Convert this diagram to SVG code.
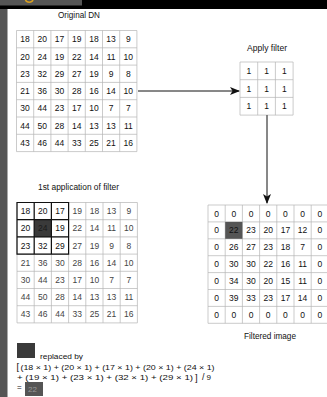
<svg xmlns="http://www.w3.org/2000/svg" width="327" height="397" viewBox="0 0 327 397">
<style>
text{font-family:"Liberation Sans",Arial,sans-serif;fill:#111}
.n{font-size:8.5px;text-anchor:middle}
.g{fill:#444}
.t{font-size:8.3px;text-anchor:middle}
.f{font-size:8px}
.br{font-size:9.5px}
.gl{stroke:#b5b5b5;stroke-width:0.7;fill:none}
.bx{stroke:#111;stroke-width:1.2;fill:none}
.ar{stroke:#111;stroke-width:1;fill:none}
</style>
<defs>
<marker id="ah" markerWidth="10" markerHeight="8" refX="9" refY="4" orient="auto" markerUnits="userSpaceOnUse">
<path d="M0,0 L10,4 L0,8 L2.5,4 Z" fill="#111"/>
</marker>
</defs>
<rect width="327" height="397" fill="#fff"/>
<g id="frame">
<rect x="0" y="0" width="327" height="9" fill="#000"/>
<rect x="0" y="0" width="82" height="5.5" fill="#555"/>
<path d="M25.5,0 A4,3.5 0 0 0 33,0" stroke="#d9a020" stroke-width="1.6" fill="none"/>
<rect x="0" y="9" width="7.5" height="388" fill="#555"/>
</g>

<g id="original-dn">
<text class="t" x="79" y="18" textLength="42" lengthAdjust="spacingAndGlyphs">Original DN</text>
<path class="gl" d="M16.5,30.5H136.9M16.5,47.8H136.9M16.5,65.1H136.9M16.5,82.4H136.9M16.5,99.7H136.9M16.5,117H136.9M16.5,134.3H136.9M16.5,151.6H136.9M16.5,30.5V151.6M33.7,30.5V151.6M50.9,30.5V151.6M68.1,30.5V151.6M85.3,30.5V151.6M102.5,30.5V151.6M119.7,30.5V151.6M136.9,30.5V151.6"/>
<g class="n">
<text x="25.1" y="42.2">18</text><text x="42.3" y="42.2">20</text><text x="59.5" y="42.2">17</text><text x="76.7" y="42.2">19</text><text x="93.9" y="42.2">18</text><text x="111.1" y="42.2">13</text><text x="128.3" y="42.2">9</text>
<text x="25.1" y="59.5">20</text><text x="42.3" y="59.5">24</text><text x="59.5" y="59.5">19</text><text x="76.7" y="59.5">22</text><text x="93.9" y="59.5">14</text><text x="111.1" y="59.5">11</text><text x="128.3" y="59.5">10</text>
<text x="25.1" y="76.8">23</text><text x="42.3" y="76.8">32</text><text x="59.5" y="76.8">29</text><text x="76.7" y="76.8">27</text><text x="93.9" y="76.8">19</text><text x="111.1" y="76.8">9</text><text x="128.3" y="76.8">8</text>
<text x="25.1" y="94.1">21</text><text x="42.3" y="94.1">36</text><text x="59.5" y="94.1">30</text><text x="76.7" y="94.1">28</text><text x="93.9" y="94.1">16</text><text x="111.1" y="94.1">14</text><text x="128.3" y="94.1">10</text>
<text x="25.1" y="111.4">30</text><text x="42.3" y="111.4">44</text><text x="59.5" y="111.4">23</text><text x="76.7" y="111.4">17</text><text x="93.9" y="111.4">10</text><text x="111.1" y="111.4">7</text><text x="128.3" y="111.4">7</text>
<text x="25.1" y="128.7">44</text><text x="42.3" y="128.7">50</text><text x="59.5" y="128.7">28</text><text x="76.7" y="128.7">14</text><text x="93.9" y="128.7">13</text><text x="111.1" y="128.7">13</text><text x="128.3" y="128.7">11</text>
<text x="25.1" y="146">43</text><text x="42.3" y="146">46</text><text x="59.5" y="146">44</text><text x="76.7" y="146">33</text><text x="93.9" y="146">25</text><text x="111.1" y="146">21</text><text x="128.3" y="146">16</text>
</g>
</g>

<g id="apply-filter">
<text class="t" x="267" y="51" textLength="40" lengthAdjust="spacingAndGlyphs">Apply filter</text>
<path class="gl" d="M240,62H293.1M240,79.7H293.1M240,97.4H293.1M240,115.1H293.1M240,62V115.1M257.7,62V115.1M275.4,62V115.1M293.1,62V115.1"/>
<g class="n">
<text x="248.9" y="73.9">1</text><text x="266.6" y="73.9">1</text><text x="284.3" y="73.9">1</text>
<text x="248.9" y="91.6">1</text><text x="266.6" y="91.6">1</text><text x="284.3" y="91.6">1</text>
<text x="248.9" y="109.3">1</text><text x="266.6" y="109.3">1</text><text x="284.3" y="109.3">1</text>
</g>
</g>

<g id="first-application">
<text class="t" x="78.5" y="190" textLength="81" lengthAdjust="spacingAndGlyphs">1st application of filter</text>
<path class="gl" d="M17,202.5H137.4M17,219.7H137.4M17,236.9H137.4M17,254.1H137.4M17,271.3H137.4M17,288.5H137.4M17,305.7H137.4M17,322.9H137.4M17,202.5V322.9M34.2,202.5V322.9M51.4,202.5V322.9M68.6,202.5V322.9M85.8,202.5V322.9M103,202.5V322.9M120.2,202.5V322.9M137.4,202.5V322.9"/>
<rect x="34.2" y="219.7" width="17.2" height="17.2" fill="#3a3a3a"/>
<path class="bx" d="M17,202.5H68.6V254.1H17Z M34.2,202.5V254.1 M51.4,202.5V254.1 M17,219.7H68.6 M17,236.9H68.6"/>
<g class="n">
<text x="25.6" y="214.1">18</text><text x="42.8" y="214.1">20</text><text x="60" y="214.1">17</text><text class="g" x="77.2" y="214.1">19</text><text class="g" x="94.4" y="214.1">18</text><text class="g" x="111.6" y="214.1">13</text><text class="g" x="128.8" y="214.1">9</text>
<text x="25.6" y="231.3">20</text><text x="42.8" y="231.3" style="fill:#1a1a1a">24</text><text x="60" y="231.3">19</text><text class="g" x="77.2" y="231.3">22</text><text class="g" x="94.4" y="231.3">14</text><text class="g" x="111.6" y="231.3">11</text><text class="g" x="128.8" y="231.3">10</text>
<text x="25.6" y="248.5">23</text><text x="42.8" y="248.5">32</text><text x="60" y="248.5">29</text><text class="g" x="77.2" y="248.5">27</text><text class="g" x="94.4" y="248.5">19</text><text class="g" x="111.6" y="248.5">9</text><text class="g" x="128.8" y="248.5">8</text>
<text class="g" x="25.6" y="265.7">21</text><text class="g" x="42.8" y="265.7">36</text><text class="g" x="60" y="265.7">30</text><text class="g" x="77.2" y="265.7">28</text><text class="g" x="94.4" y="265.7">16</text><text class="g" x="111.6" y="265.7">14</text><text class="g" x="128.8" y="265.7">10</text>
<text class="g" x="25.6" y="282.9">30</text><text class="g" x="42.8" y="282.9">44</text><text class="g" x="60" y="282.9">23</text><text class="g" x="77.2" y="282.9">17</text><text class="g" x="94.4" y="282.9">10</text><text class="g" x="111.6" y="282.9">7</text><text class="g" x="128.8" y="282.9">7</text>
<text class="g" x="25.6" y="300.1">44</text><text class="g" x="42.8" y="300.1">50</text><text class="g" x="60" y="300.1">28</text><text class="g" x="77.2" y="300.1">14</text><text class="g" x="94.4" y="300.1">13</text><text class="g" x="111.6" y="300.1">13</text><text class="g" x="128.8" y="300.1">11</text>
<text class="g" x="25.6" y="317.3">43</text><text class="g" x="42.8" y="317.3">46</text><text class="g" x="60" y="317.3">44</text><text class="g" x="77.2" y="317.3">33</text><text class="g" x="94.4" y="317.3">25</text><text class="g" x="111.6" y="317.3">21</text><text class="g" x="128.8" y="317.3">16</text>
</g>
</g>

<g id="filtered-image">
<path class="gl" d="M208,205H328.4M208,221.9H328.4M208,238.8H328.4M208,255.7H328.4M208,272.6H328.4M208,289.5H328.4M208,306.4H328.4M208,323.3H328.4M208,205V323.3M225.2,205V323.3M242.4,205V323.3M259.6,205V323.3M276.8,205V323.3M294,205V323.3M311.2,205V323.3"/>
<rect x="225.2" y="221.9" width="17.2" height="16.9" fill="#555"/>
<g class="n">
<text x="216.6" y="216.5">0</text><text x="233.8" y="216.5">0</text><text x="251" y="216.5">0</text><text x="268.2" y="216.5">0</text><text x="285.4" y="216.5">0</text><text x="302.6" y="216.5">0</text><text x="319.8" y="216.5">0</text>
<text x="216.6" y="233.4">0</text><text x="233.8" y="233.4">22</text><text x="251" y="233.4">23</text><text x="268.2" y="233.4">20</text><text x="285.4" y="233.4">17</text><text x="302.6" y="233.4">12</text><text x="319.8" y="233.4">0</text>
<text x="216.6" y="250.3">0</text><text x="233.8" y="250.3">26</text><text x="251" y="250.3">27</text><text x="268.2" y="250.3">23</text><text x="285.4" y="250.3">18</text><text x="302.6" y="250.3">7</text><text x="319.8" y="250.3">0</text>
<text x="216.6" y="267.2">0</text><text x="233.8" y="267.2">30</text><text x="251" y="267.2">30</text><text x="268.2" y="267.2">22</text><text x="285.4" y="267.2">16</text><text x="302.6" y="267.2">11</text><text x="319.8" y="267.2">0</text>
<text x="216.6" y="284.1">0</text><text x="233.8" y="284.1">34</text><text x="251" y="284.1">30</text><text x="268.2" y="284.1">20</text><text x="285.4" y="284.1">15</text><text x="302.6" y="284.1">11</text><text x="319.8" y="284.1">0</text>
<text x="216.6" y="301">0</text><text x="233.8" y="301">39</text><text x="251" y="301">33</text><text x="268.2" y="301">23</text><text x="285.4" y="301">17</text><text x="302.6" y="301">14</text><text x="319.8" y="301">0</text>
<text x="216.6" y="317.9">0</text><text x="233.8" y="317.9">0</text><text x="251" y="317.9">0</text><text x="268.2" y="317.9">0</text><text x="285.4" y="317.9">0</text><text x="302.6" y="317.9">0</text><text x="319.8" y="317.9">0</text>
</g>
<text class="t" x="270" y="339" textLength="52" lengthAdjust="spacingAndGlyphs">Filtered image</text>
</g>

<g id="formula">
<rect x="17" y="343" width="18" height="15" fill="#3a3a3a"/>
<text class="f" x="40" y="359" textLength="43" lengthAdjust="spacingAndGlyphs">replaced by</text>
<text class="br" x="16.5" y="370">[</text>
<text class="f" x="20.5" y="369.5" textLength="194" lengthAdjust="spacingAndGlyphs">(18 × 1) + (20 × 1) + (17 × 1) + (20 × 1) + (24 × 1)</text>
<text class="f" x="17" y="380" textLength="176" lengthAdjust="spacingAndGlyphs">+ (19 × 1) + (23 × 1) + (32 × 1) + (29 × 1)</text>
<text class="br" x="195" y="380.5">]</text>
<text x="202" y="380" style="font-size:9px">/</text>
<text class="f" x="206.5" y="380">9</text>
<text class="f" x="17" y="390">=</text>
<rect x="25" y="382" width="18" height="14" fill="#555"/>
<text class="f" x="28" y="391.5" style="fill:#999">22</text>
</g>

<g id="connectors">
<path class="ar" d="M138,91H239" marker-end="url(#ah)"/>
<path class="ar" d="M267,115.1V203" marker-end="url(#ah)"/>
</g>
</svg>
